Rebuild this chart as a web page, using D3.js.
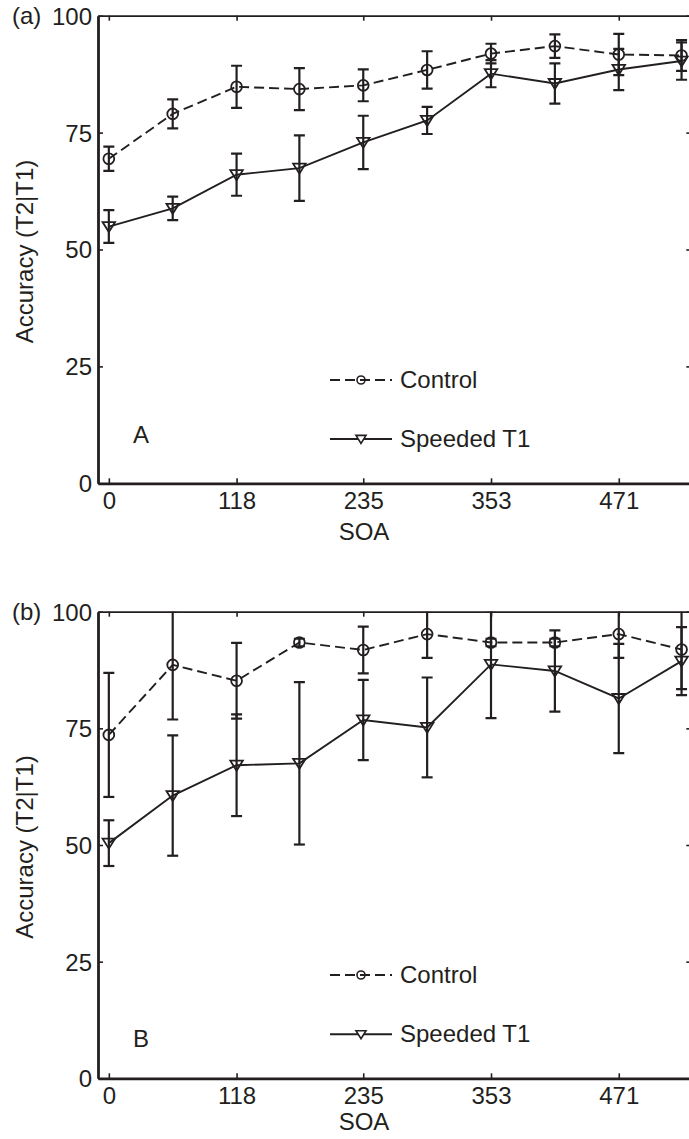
<!DOCTYPE html>
<html>
<head>
<meta charset="utf-8">
<script src="https://cdn.jsdelivr.net/npm/d3@7"></script>
<style>
  html, body { margin: 0; padding: 0; background: #fff; }
  svg { display: block; }
  text { font-family: "Liberation Sans", Arial, Helvetica, sans-serif; fill: #231f20; }
</style>
</head>
<body>
<svg id="chart" width="689" height="1139"></svg>
<script>
// SOA in ms (one step = 1000/17 ms)
const soa = [0, 59, 118, 176, 235, 294, 353, 412, 471, 529];
const xTickValues = [0, 118, 235, 353, 471];
const yTickValues = [0, 25, 50, 75, 100];

// Panel (a)
const controlA     = [69.4, 79.0, 84.8, 84.3, 85.1, 88.4, 91.9, 93.5, 91.7, 91.5];
const controlAErr  = [2.6, 3.1, 4.5, 4.5, 3.4, 4.0, 2.1, 2.5, 4.4, 3.3];
const speededA     = [54.9, 58.8, 66.0, 67.4, 72.9, 77.6, 87.6, 85.5, 88.5, 90.3];
const speededAErr  = [3.5, 2.5, 4.5, 7.0, 5.7, 2.9, 2.9, 4.3, 4.4, 4.0];

// Panel (b)
const controlB     = [73.6, 88.6, 85.2, 93.4, 91.8, 95.2, 93.4, 93.4, 95.2, 91.9];
const controlBErr  = [13.3, 11.7, 8.1, 0.8, 5.0, 5.1, 0.8, 0.8, 5.1, 8.5];
const speededB     = [50.4, 60.6, 67.1, 67.5, 76.8, 75.2, 88.7, 87.3, 81.4, 89.4];
const speededBErr  = [4.9, 12.9, 10.9, 17.4, 8.6, 10.7, 11.5, 8.7, 11.7, 7.3];

const seriesNames = ["Control", "Speeded T1"];

const ink = "#231f20";
const svg = d3.select("#chart");

const x = d3.scaleLinear().domain([-10, 538]).range([98, 691.3]);

const panels = [
  { tag: "(a)", letter: "A", top: 15.7, bottom: 483.3,
    control: controlA, controlErr: controlAErr, speeded: speededA, speededErr: speededAErr,
    letterY: 427.5, soaY: 56.7, legendY: [364.3, 423.3] },
  { tag: "(b)", letter: "B", top: 611.7, bottom: 1078.3,
    control: controlB, controlErr: controlBErr, speeded: speededB, speededErr: speededBErr,
    letterY: 435, soaY: 51.7, legendY: [363.3, 422.6] }
];

// downward-pointing triangle centred on the point
function triPath(w, h) {
  return `M${-w / 2},${-h * 0.45}L${w / 2},${-h * 0.45}L0,${h * 0.55}Z`;
}

panels.forEach((p, pi) => {
  const y = d3.scaleLinear().domain([0, 100]).range([p.bottom, p.top]);
  const g = svg.append("g");

  const clipId = "clip" + pi;
  svg.append("clipPath").attr("id", clipId)
    .append("rect")
    .attr("x", x.range()[0]).attr("y", p.top)
    .attr("width", x.range()[1] - x.range()[0]).attr("height", p.bottom - p.top);

  // box axes: top and right carry ticks only
  const topAxis = g.append("g").attr("transform", `translate(0,${p.top})`)
    .call(d3.axisTop(x).tickValues(xTickValues).tickSizeInner(-5).tickSizeOuter(0).tickFormat(""));
  const rightAxis = g.append("g").attr("transform", `translate(${x.range()[1]},0)`)
    .call(d3.axisRight(y).tickValues(yTickValues).tickSizeInner(-5).tickSizeOuter(0).tickFormat(""));
  const bottomAxis = g.append("g").attr("transform", `translate(0,${p.bottom})`)
    .call(d3.axisBottom(x).tickValues(xTickValues).tickSizeInner(-5).tickSizeOuter(0).tickPadding(8.5));
  const leftAxis = g.append("g").attr("transform", `translate(${x.range()[0]},0)`)
    .call(d3.axisLeft(y).tickValues(yTickValues).tickSizeInner(-5).tickSizeOuter(0).tickPadding(6));

  [topAxis, rightAxis, bottomAxis, leftAxis].forEach(a => {
    a.selectAll("path.domain").attr("stroke", ink).attr("stroke-width", 1.7);
    a.selectAll(".tick line").attr("stroke", ink).attr("stroke-width", 1.6);
    a.selectAll(".tick text").attr("fill", ink).style("font-size", "24px")
      .style("font-family", '"Liberation Sans", Arial, sans-serif');
  });
  bottomAxis.select("path.domain").attr("stroke-width", 2.8);
  leftAxis.select("path.domain").attr("stroke-width", 2.8);
  leftAxis.selectAll(".tick text").attr("dy", "0.35em");

  // panel tag and axis titles
  g.append("text").attr("x", 12).attr("y", p.top + 8.6).style("font-size", "24px").text(p.tag);
  g.append("text").attr("x", 364).attr("y", p.bottom + p.soaY)
    .attr("text-anchor", "middle").style("font-size", "24px").text("SOA");
  g.append("text")
    .attr("transform", `translate(32.5,${(p.top + p.bottom) / 2 + 2}) rotate(-90)`)
    .attr("text-anchor", "middle").style("font-size", "24px").text("Accuracy (T2|T1)");
  g.append("text").attr("x", 133).attr("y", p.top + p.letterY)
    .style("font-size", "24px").text(p.letter);

  const plot = g.append("g").attr("clip-path", `url(#${clipId})`);
  const cap = 5.5;

  const series = [
    { vals: p.control, err: p.controlErr, dash: "10,5", marker: "circle" },
    { vals: p.speeded, err: p.speededErr, dash: null, marker: "tri" }
  ];

  series.forEach(s => {
    const pts = soa.map((t, i) => ({ t, v: s.vals[i], e: s.err[i] }));
    const eb = plot.append("g").attr("stroke", ink).attr("stroke-width", 2.2).attr("fill", "none");
    pts.forEach(d => {
      const x0 = x(d.t), yt = y(d.v + d.e), yb = y(d.v - d.e);
      eb.append("line").attr("x1", x0).attr("x2", x0).attr("y1", yt).attr("y2", yb);
      eb.append("line").attr("x1", x0 - cap).attr("x2", x0 + cap).attr("y1", yt).attr("y2", yt);
      eb.append("line").attr("x1", x0 - cap).attr("x2", x0 + cap).attr("y1", yb).attr("y2", yb);
    });
  });

  series.forEach(s => {
    const pts = soa.map((t, i) => ({ t, v: s.vals[i] }));
    const line = d3.line().x(d => x(d.t)).y(d => y(d.v));
    plot.append("path").datum(pts).attr("d", line)
      .attr("fill", "none").attr("stroke", ink).attr("stroke-width", 1.9)
      .attr("stroke-dasharray", s.dash);
    if (s.marker === "circle") {
      plot.append("g").selectAll("circle").data(pts).join("circle")
        .attr("cx", d => x(d.t)).attr("cy", d => y(d.v)).attr("r", 5.4)
        .attr("fill", "none").attr("stroke", ink).attr("stroke-width", 1.8);
    } else {
      plot.append("g").selectAll("path").data(pts).join("path")
        .attr("transform", d => `translate(${x(d.t)},${y(d.v)})`)
        .attr("d", triPath(12.5, 10))
        .attr("fill", "none").attr("stroke", ink).attr("stroke-width", 1.8);
    }
  });

  // legend
  const lg = g.append("g");
  seriesNames.forEach((name, i) => {
    const ly = p.top + p.legendY[i];
    lg.append("line").attr("x1", 330).attr("x2", 392).attr("y1", ly).attr("y2", ly)
      .attr("stroke", ink).attr("stroke-width", 1.9)
      .attr("stroke-dasharray", i === 0 ? "10,5" : null);
    if (i === 0) {
      lg.append("circle").attr("cx", 361).attr("cy", ly).attr("r", 4)
        .attr("fill", "none").attr("stroke", ink).attr("stroke-width", 1.6);
    } else {
      lg.append("path").attr("transform", `translate(361,${ly})`).attr("d", triPath(10, 8))
        .attr("fill", "#fff").attr("stroke", ink).attr("stroke-width", 1.6);
    }
    lg.append("text").attr("x", 400).attr("y", ly + 7.8).style("font-size", "24px").text(name);
  });
});
</script>
</body>
</html>
